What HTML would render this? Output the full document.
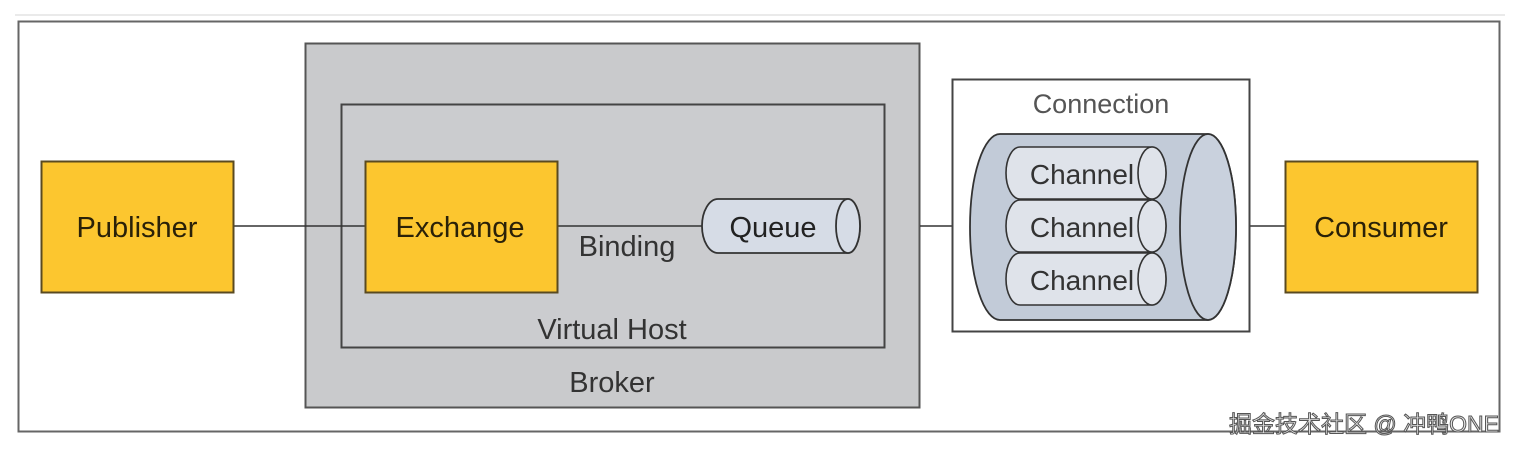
<!DOCTYPE html>
<html><head><meta charset="utf-8"><style>
html,body{margin:0;padding:0;background:#fff;width:1525px;height:453px;overflow:hidden}
svg{display:block}
text{font-family:"Liberation Sans","Noto Sans CJK SC",sans-serif}
</style></head><body>
<svg width="1525" height="453" viewBox="0 0 1525 453" xmlns="http://www.w3.org/2000/svg">
<line x1="15" y1="15" x2="1505" y2="15" stroke="#e4e4e4" stroke-width="1.5"/>
<rect x="18.5" y="21.5" width="1481" height="410" fill="#fff" stroke="#666" stroke-width="2"/>
<rect x="305.5" y="43.5" width="614" height="364" fill="#c9cacc" stroke="#555" stroke-width="2"/>
<rect x="341.5" y="104.5" width="543" height="243" fill="#cbcccf" stroke="#444" stroke-width="2"/>
<line x1="233" y1="226" x2="365" y2="226" stroke="#333" stroke-width="1.5"/>
<line x1="557" y1="226" x2="702" y2="226" stroke="#333" stroke-width="1.5"/>
<line x1="920" y1="226" x2="972" y2="226" stroke="#333" stroke-width="1.5"/>
<line x1="1236" y1="226" x2="1286" y2="226" stroke="#333" stroke-width="1.5"/>
<rect x="41.5" y="161.5" width="192" height="131" fill="#fcc62f" stroke="#5a4a20" stroke-width="2"/>
<text x="137" y="237" font-size="29" text-anchor="middle" fill="#2a2108">Publisher</text>
<rect x="365.5" y="161.5" width="192" height="131" fill="#fcc62f" stroke="#5a4a20" stroke-width="2"/>
<text x="460" y="237" font-size="29" text-anchor="middle" fill="#2a2108">Exchange</text>
<text x="627" y="256" font-size="29" text-anchor="middle" fill="#333">Binding</text>
<path d="M718 199 H848 A12 27 0 0 1 848 253 H718 A16 27 0 0 1 718 199 Z" fill="#d6dce6" stroke="#333" stroke-width="1.8"/>
<ellipse cx="848" cy="226" rx="12" ry="27" fill="#d6dce6" stroke="#333" stroke-width="1.8"/>
<text x="773" y="237" font-size="29" text-anchor="middle" fill="#222">Queue</text>
<text x="612" y="339" font-size="29" text-anchor="middle" fill="#333">Virtual Host</text>
<text x="612" y="392" font-size="29" text-anchor="middle" fill="#333">Broker</text>
<rect x="952.5" y="79.5" width="297" height="252" fill="#fff" stroke="#444" stroke-width="2"/>
<text x="1101" y="113" font-size="27" text-anchor="middle" fill="#555">Connection</text>
<path d="M1000 134 H1208 A28 93 0 0 1 1208 320 H1000 A30 93 0 0 1 1000 134 Z" fill="#c2cbd8" stroke="#333" stroke-width="1.8"/>
<ellipse cx="1208" cy="227" rx="28" ry="93" fill="#c9d1dd" stroke="#333" stroke-width="1.8"/>
<g fill="#dfe3ea" stroke="#333" stroke-width="1.6">
<path d="M1020 147 H1152 A14 26 0 0 1 1152 199 H1020 A14 26 0 0 1 1020 147 Z"/>
<ellipse cx="1152" cy="173" rx="14" ry="26"/>
<path d="M1020 200 H1152 A14 26 0 0 1 1152 252 H1020 A14 26 0 0 1 1020 200 Z"/>
<ellipse cx="1152" cy="226" rx="14" ry="26"/>
<path d="M1020 253 H1152 A14 26 0 0 1 1152 305 H1020 A14 26 0 0 1 1020 253 Z"/>
<ellipse cx="1152" cy="279" rx="14" ry="26"/>
</g>
<g font-size="28" fill="#333" text-anchor="middle">
<text x="1082" y="184">Channel</text>
<text x="1082" y="237">Channel</text>
<text x="1082" y="290">Channel</text>
</g>
<rect x="1285.5" y="161.5" width="192" height="131" fill="#fcc62f" stroke="#5a4a20" stroke-width="2"/>
<text x="1381" y="237" font-size="29" text-anchor="middle" fill="#2a2108">Consumer</text>
<text x="1364" y="432" font-size="23" text-anchor="middle" fill="#e8e8e8" stroke="#555" stroke-width="1">掘金技术社区 @ 冲鸭ONE</text>
</svg>
</body></html>
